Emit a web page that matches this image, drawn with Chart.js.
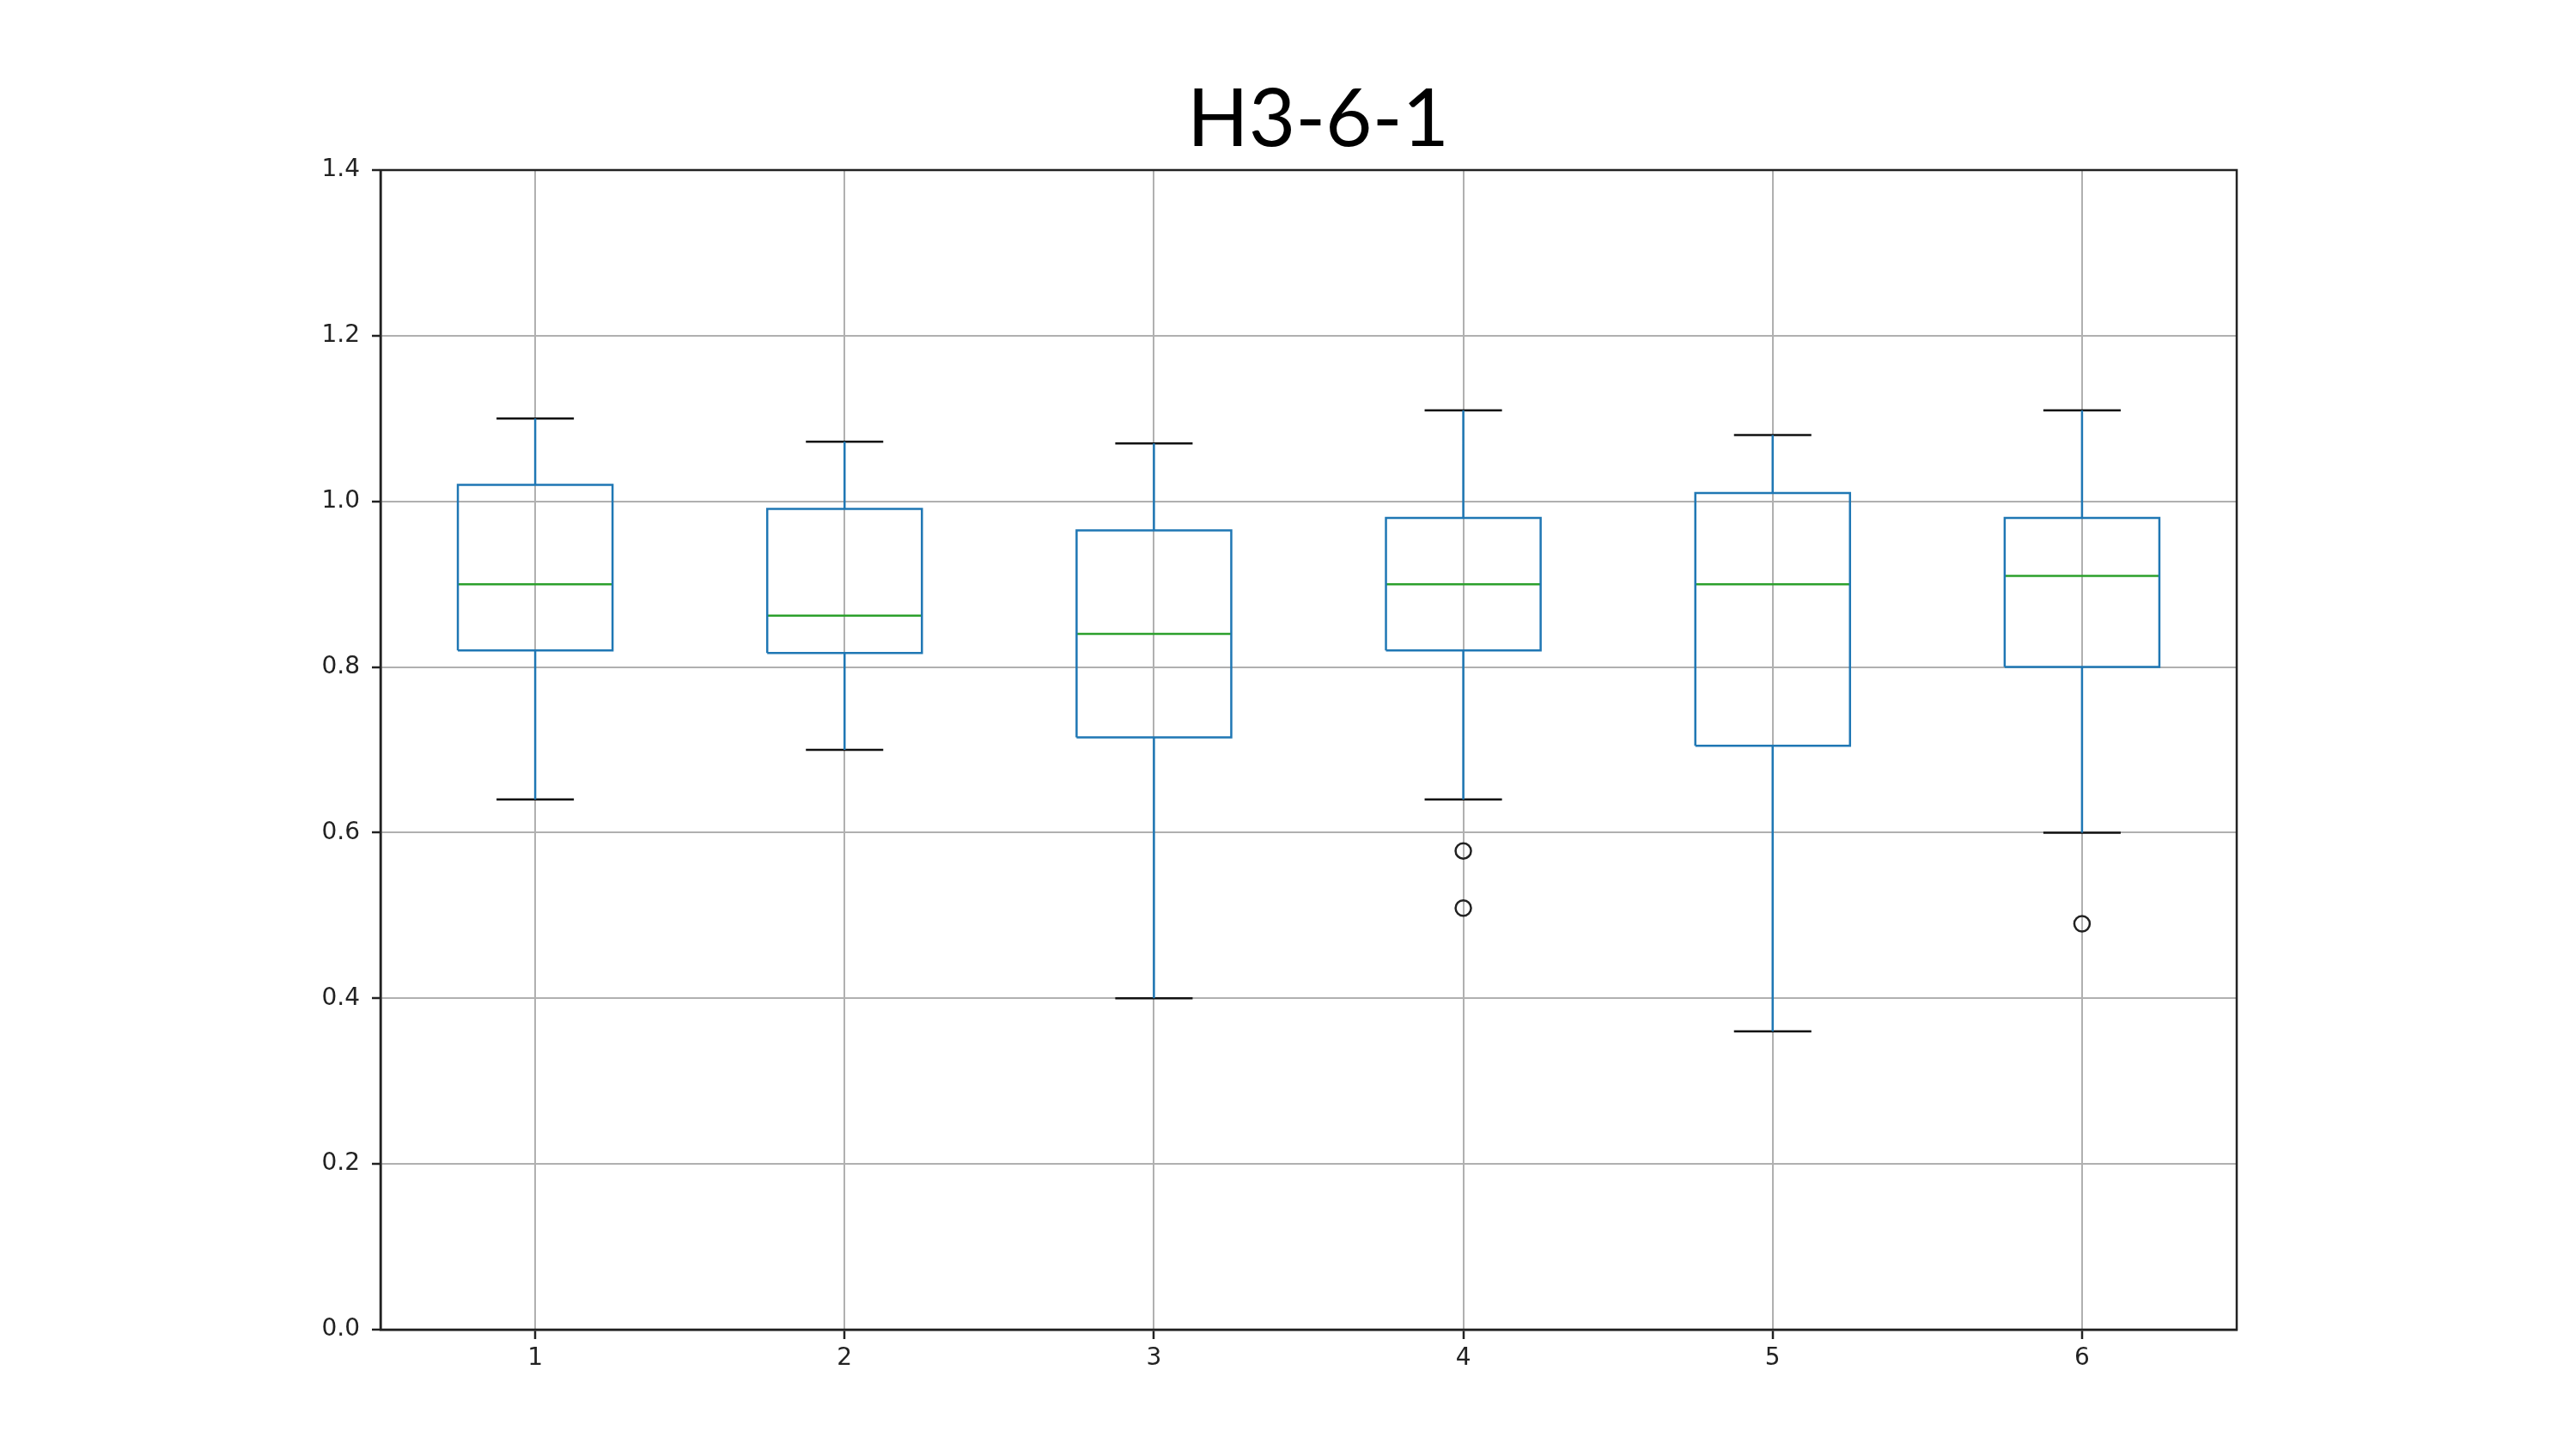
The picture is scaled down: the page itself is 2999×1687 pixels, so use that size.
<!DOCTYPE html>
<html>
<head>
<meta charset="utf-8">
<script src="https://cdn.jsdelivr.net/npm/chart.js@4.4.1/dist/chart.umd.min.js"></script>
<style>
  html, body { margin: 0; padding: 0; background: #fff; }
</style>
</head>
<body>
<canvas id="box" width="2999" height="1687"></canvas>
<script>
// groups on the x axis
const categories = ['1', '2', '3', '4', '5', '6'];
// box plot stats
const whiskerLow  = [0.64, 0.70, 0.40, 0.64, 0.36, 0.60];
const q1          = [0.82, 0.817, 0.715, 0.82, 0.705, 0.80];
const median      = [0.90, 0.862, 0.84, 0.90, 0.90, 0.91];
const q3          = [1.02, 0.991, 0.965, 0.98, 1.01, 0.98];
const whiskerHigh = [1.10, 1.072, 1.07, 1.11, 1.08, 1.11];
// fliers: group index (1-based) and value
const outlierGroup = [4, 4, 6];
const outlierValue = [0.578, 0.509, 0.49];
const yTicks = [0, 0.2, 0.4, 0.6, 0.8, 1.0, 1.2, 1.4];
const chartTitle = 'H3-6-1';

const BOX_HALF = 0.25, CAP_HALF = 0.125;
const GAP = { x: NaN, y: NaN };

// build polylines, NaN points break the line between groups
const boxPts = [], whiskerPts = [], capPts = [], medianPts = [];
categories.forEach((c, i) => {
  const x = i + 1;
  boxPts.push({ x: x - BOX_HALF, y: q1[i] }, { x: x - BOX_HALF, y: q3[i] },
              { x: x + BOX_HALF, y: q3[i] }, { x: x + BOX_HALF, y: q1[i] },
              { x: x - BOX_HALF, y: q1[i] }, GAP);
  whiskerPts.push({ x, y: q3[i] }, { x, y: whiskerHigh[i] }, GAP,
                  { x, y: q1[i] }, { x, y: whiskerLow[i] }, GAP);
  capPts.push({ x: x - CAP_HALF, y: whiskerHigh[i] }, { x: x + CAP_HALF, y: whiskerHigh[i] }, GAP,
              { x: x - CAP_HALF, y: whiskerLow[i] }, { x: x + CAP_HALF, y: whiskerLow[i] }, GAP);
  medianPts.push({ x: x - BOX_HALF, y: median[i] }, { x: x + BOX_HALF, y: median[i] }, GAP);
});
const outlierPts = outlierGroup.map((g, k) => ({ x: g, y: outlierValue[k] }));

const lineSet = (data, color, width) => ({
  data, showLine: true, borderColor: color, borderWidth: width,
  pointRadius: 0, spanGaps: false, fill: false, tension: 0
});

// full frame round the plot area, like the matplotlib spines, plus the slide title
const frame = {
  id: 'frame',
  afterDraw(chart) {
    const { ctx, chartArea: a } = chart;
    ctx.save();
    ctx.strokeStyle = '#222';
    ctx.lineWidth = 2.5;
    ctx.strokeRect(a.left, a.top, a.right - a.left, a.bottom - a.top);
    // title sits a bit right of the plot centre in the original slide
    ctx.fillStyle = '#000';
    ctx.font = 'normal 94px Lato';
    ctx.textAlign = 'center';
    ctx.textBaseline = 'alphabetic';
    ctx.fillText(chartTitle, (a.left + a.right) / 2 + 11, 170);
    ctx.restore();
  }
};

new Chart(document.getElementById('box'), {
  type: 'scatter',
  data: {
    datasets: [
      lineSet(whiskerPts, '#1f77b4', 2.5),
      lineSet(boxPts, '#1f77b4', 2.5),
      lineSet(capPts, '#111', 2.5),
      lineSet(medianPts, '#2ca02c', 2.5),
      {
        data: outlierPts, pointRadius: 9, pointBorderWidth: 2.5,
        pointBorderColor: '#222', pointBackgroundColor: 'rgba(0,0,0,0)', showLine: false
      }
    ]
  },
  options: {
    responsive: false,
    devicePixelRatio: 1,
    animation: false,
    layout: { padding: { left: 343, right: 395, top: 198, bottom: 79 } },
    plugins: {
      legend: { display: false },
      tooltip: { enabled: false },
      title: { display: false }
    },
    scales: {
      x: {
        type: 'linear',
        min: 0.5,
        max: 6.5,
        afterBuildTicks: (axis) => { axis.ticks = categories.map((c, i) => ({ value: i + 1 })); },
        afterFit: (axis) => { axis.height = 60; },
        ticks: {
          callback: (v) => categories[v - 1],
          font: { family: 'DejaVu Sans', size: 28 },
          color: '#222',
          padding: 6
        },
        grid: { color: '#b0b0b0', lineWidth: 2, tickLength: 11, tickColor: '#222', tickWidth: 2.5 },
        border: { color: '#222', width: 2.5 }
      },
      y: {
        min: 0,
        max: 1.4,
        afterBuildTicks: (axis) => { axis.ticks = yTicks.map(v => ({ value: v })); },
        afterFit: (axis) => { axis.width = 100; },
        ticks: {
          callback: (v) => v.toFixed(1),
          font: { family: 'DejaVu Sans', size: 28 },
          color: '#222',
          padding: 14
        },
        grid: { color: '#b0b0b0', lineWidth: 2, tickLength: 10, tickColor: '#222', tickWidth: 2.5 },
        border: { color: '#222', width: 2.5 }
      }
    }
  },
  plugins: [frame]
});
</script>
</body>
</html>
